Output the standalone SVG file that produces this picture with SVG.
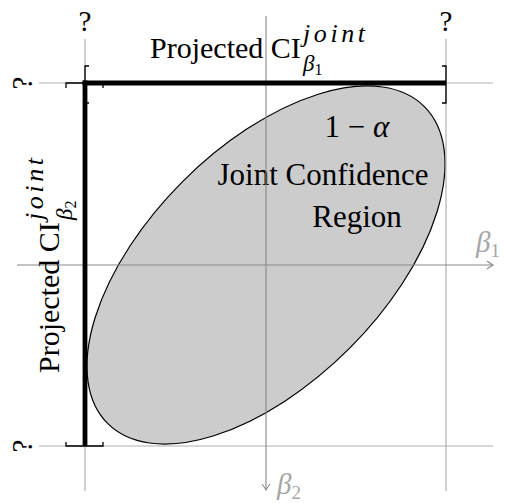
<svg xmlns="http://www.w3.org/2000/svg" width="505" height="504" viewBox="0 0 505 504">
<style>
.grid{stroke:#b0b0b0;stroke-width:1.2;fill:none}
.axis{stroke:#888;stroke-width:1.1;fill:none}
.thick{stroke:#000;stroke-width:4.8;fill:none}
.br{stroke:#000;stroke-width:1.3;fill:none}
.t{font-family:"Liberation Serif","Times New Roman",serif;fill:#000}
.it{font-style:italic}
.lab{font-family:"Liberation Serif","Times New Roman",serif;font-style:italic;fill:#a6a6a6}
</style>
<rect width="505" height="504" fill="#fff"/>
<g id="region">
<ellipse cx="266" cy="265" rx="224" ry="118" transform="rotate(-45 266 265)" fill="#cccccc" stroke="#000" stroke-width="1.2"/>
<text class="t" x="357" y="137" font-size="31" text-anchor="middle">1 − <tspan class="it">α</tspan></text>
<text class="t" x="323" y="185" font-size="31" text-anchor="middle">Joint Confidence</text>
<text class="t" x="357" y="227" font-size="31" text-anchor="middle">Region</text>
</g>
<g id="connectors">
<line class="grid" x1="39" y1="83" x2="493" y2="83"/>
<line class="grid" x1="39" y1="446" x2="493" y2="446"/>
<line class="grid" x1="85" y1="39" x2="85" y2="491"/>
<line class="grid" x1="446" y1="39" x2="446" y2="491"/>
<line class="axis" x1="17" y1="265" x2="493" y2="265"/>
<path class="axis" d="M487,261 Q491,264 493,265 Q491,266 487,269"/>
<line class="axis" x1="266" y1="16" x2="266" y2="490"/>
<path class="axis" d="M262,484 Q265,488 266,490 Q267,488 270,484"/>
<line class="thick" x1="82.6" y1="83" x2="446" y2="83"/>
<line class="thick" x1="85" y1="80.6" x2="85" y2="446"/>
<path class="br" d="M89,66 H85 V103 H89"/>
<path class="br" d="M442,66 H446 V103 H442"/>
<path class="br" d="M66,88 V83 H103 V88"/>
<path class="br" d="M66,442 V446 H103 V442"/>
</g>
<g id="labels">
<text class="t" x="85" y="31" font-size="29" text-anchor="middle">?</text>
<text class="t" x="446" y="31" font-size="29" text-anchor="middle">?</text>
<text class="t" font-size="29" text-anchor="middle" transform="translate(32 83) rotate(-90)">?</text>
<text class="t" font-size="29" text-anchor="middle" transform="translate(32 446) rotate(-90)">?</text>
<text class="lab" x="476" y="252" font-size="29">β<tspan font-size="19" font-style="normal" dy="5">1</tspan></text>
<text class="lab" x="277" y="494" font-size="29">β<tspan font-size="19" font-style="normal" dy="5">2</tspan></text>
</g>
<g id="title-b1">
<text class="t" x="150" y="58" font-size="30">Projected CI</text>
<text class="t it" x="303" y="42" font-size="26" textLength="62" lengthAdjust="spacing">joint</text>
<text class="t it" x="303" y="71" font-size="23">β<tspan font-size="16" font-style="normal" dy="4">1</tspan></text>
</g>
<g id="title-b2" transform="translate(59 373) rotate(-90)">
<text class="t" x="0" y="0" font-size="30">Projected CI</text>
<text class="t it" x="153" y="-16" font-size="26" textLength="62" lengthAdjust="spacing">joint</text>
<text class="t it" x="153" y="13" font-size="23">β<tspan font-size="16" font-style="normal" dy="4">2</tspan></text>
</g>
</svg>
